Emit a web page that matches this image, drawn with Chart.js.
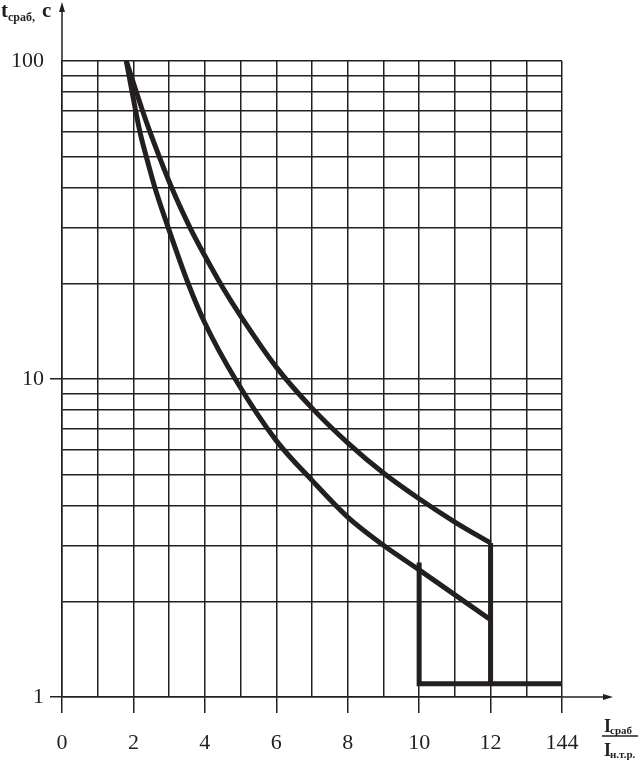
<!DOCTYPE html>
<html>
<head>
<meta charset="utf-8">
<script src="https://cdn.jsdelivr.net/npm/chart.js@4.4.0/dist/chart.umd.min.js"></script>
<style>
  body { margin: 0; background: #ffffff; }
  canvas { display: block; }
</style>
</head>
<body>
<canvas id="tripChart" width="641" height="765"></canvas>
<script>
// Upper (slow) trip curve: multiple of rated current -> trip time, s
const upperX = [1.8, 2.25, 2.46, 3.07, 3.58, 4, 4.5, 5, 6, 7, 8, 9, 10, 11, 12];
const upperY = [100, 70, 60, 40, 30, 24.4, 19.4, 15.8, 10.9, 8.1, 6.3, 5.06, 4.2, 3.55, 3.05];

// Lower (fast) trip curve
const lowerX = [1.8, 2.18, 2.36, 2.6, 2.97, 3.53, 4, 4.85, 6, 7, 8, 9, 10, 12];
const lowerY = [100, 60, 50, 40, 30, 20, 15, 10, 6.4, 4.8, 3.68, 3.0, 2.51, 1.75];

// Instantaneous zone
const instX = [10, 10, 14];
const instY = [2.65, 1.1, 1.1];
const dropX = [12, 12];
const dropY = [3.05, 1.1];

// Tick labels
const xTickValues = [0, 2, 4, 6, 8, 10, 12, 14];
const xTickLabels = ["0", "2", "4", "6", "8", "10", "12", "144"];
const yTickValues = [1, 10, 100];
const yTickLabels = ["1", "10", "100"];

const ink = "#231f20";
const serif = "'Liberation Serif', 'Times New Roman', serif";

function toPoints(xs, ys) {
    return xs.map((x, i) => ({ x: x, y: ys[i] }));
}

// Arrows and axis captions
const axisDecor = {
    id: "axisDecor",
    afterDraw(chart) {
        const ctx = chart.ctx;
        const area = chart.chartArea;
        ctx.save();
        ctx.strokeStyle = ink;
        ctx.fillStyle = ink;
        ctx.lineWidth = 1.5;

        // y axis going up to the arrow
        ctx.beginPath();
        ctx.moveTo(area.left, area.top);
        ctx.lineTo(area.left, 8);
        ctx.stroke();
        ctx.beginPath();
        ctx.moveTo(area.left, 2);
        ctx.lineTo(area.left - 3, 12);
        ctx.lineTo(area.left + 3, 12);
        ctx.closePath();
        ctx.fill();

        // x axis going right to the arrow
        ctx.beginPath();
        ctx.moveTo(area.right, area.bottom);
        ctx.lineTo(606, area.bottom);
        ctx.stroke();
        ctx.beginPath();
        ctx.moveTo(613, area.bottom);
        ctx.lineTo(603, area.bottom - 3);
        ctx.lineTo(603, area.bottom + 3);
        ctx.closePath();
        ctx.fill();

        // y title: t сраб, с
        ctx.textBaseline = "alphabetic";
        ctx.textAlign = "left";
        ctx.font = "bold 21px " + serif;
        ctx.fillText("t", 1, 17);
        ctx.font = "bold 12px " + serif;
        ctx.fillText("сраб,", 8, 21);
        ctx.font = "bold 21px " + serif;
        ctx.fillText("с", 42, 17);

        // x title: I сраб / I н.т.р.
        ctx.font = "bold 18px " + serif;
        ctx.fillText("I", 604, 732);
        ctx.fillText("I", 604, 756);
        ctx.font = "bold 11px " + serif;
        ctx.fillText("сраб", 610, 734);
        ctx.fillText("н.т.р.", 610, 758);
        ctx.beginPath();
        ctx.moveTo(602, 736);
        ctx.lineTo(638, 736);
        ctx.stroke();
        ctx.restore();
    }
};

const lineStyle = {
    borderColor: ink,
    borderWidth: 5,
    pointRadius: 0,
    showLine: true,
    fill: false
};

new Chart(document.getElementById("tripChart").getContext("2d"), {
    type: "scatter",
    data: {
        datasets: [
            Object.assign({ label: "upper", data: toPoints(upperX, upperY), cubicInterpolationMode: "monotone" }, lineStyle),
            Object.assign({ label: "lower", data: toPoints(lowerX, lowerY), cubicInterpolationMode: "monotone" }, lineStyle),
            Object.assign({ label: "inst", data: toPoints(instX, instY), tension: 0 }, lineStyle),
            Object.assign({ label: "drop", data: toPoints(dropX, dropY), tension: 0 }, lineStyle)
        ]
    },
    options: {
        responsive: false,
        animation: false,
        layout: { padding: { top: 61, right: 79, left: 0, bottom: 0 } },
        plugins: {
            legend: { display: false },
            tooltip: { enabled: false }
        },
        scales: {
            x: {
                type: "linear",
                min: 0,
                max: 14,
                afterFit(scale) { scale.height = 68; },
                afterBuildTicks(scale) {
                    const t = [];
                    for (let v = 0; v <= 14; v++) t.push({ value: v });
                    scale.ticks = t;
                },
                ticks: {
                    autoSkip: false,
                    maxRotation: 0,
                    padding: 17,
                    color: ink,
                    font: { family: serif, size: 22 },
                    callback(value) {
                        const i = xTickValues.indexOf(value);
                        return i >= 0 ? xTickLabels[i] : "";
                    }
                },
                grid: {
                    color: ink,
                    lineWidth: 1.5,
                    tickLength: 16,
                    tickColor(c) {
                        return xTickValues.indexOf(c.tick.value) >= 0 ? ink : "rgba(0,0,0,0)";
                    }
                },
                border: { display: true, color: ink, width: 1.5 }
            },
            y: {
                type: "logarithmic",
                min: 1,
                max: 100,
                afterFit(scale) { scale.width = 62; },
                afterBuildTicks(scale) {
                    const t = [];
                    for (let d = 1; d <= 10; d *= 10) {
                        for (let m = 1; m <= 9; m++) t.push({ value: m * d });
                    }
                    t.push({ value: 100 });
                    scale.ticks = t;
                },
                ticks: {
                    autoSkip: false,
                    padding: 6,
                    color: ink,
                    font: { family: serif, size: 22 },
                    callback(value) {
                        const i = yTickValues.indexOf(value);
                        return i >= 0 ? yTickLabels[i] : "";
                    }
                },
                grid: {
                    color: ink,
                    lineWidth: 1.5,
                    tickLength: 12,
                    tickColor(c) {
                        return (c.tick.value === 1 || c.tick.value === 10) ? ink : "rgba(0,0,0,0)";
                    }
                },
                border: { display: true, color: ink, width: 1.5 }
            }
        }
    },
    plugins: [axisDecor]
});
</script>
</body>
</html>
